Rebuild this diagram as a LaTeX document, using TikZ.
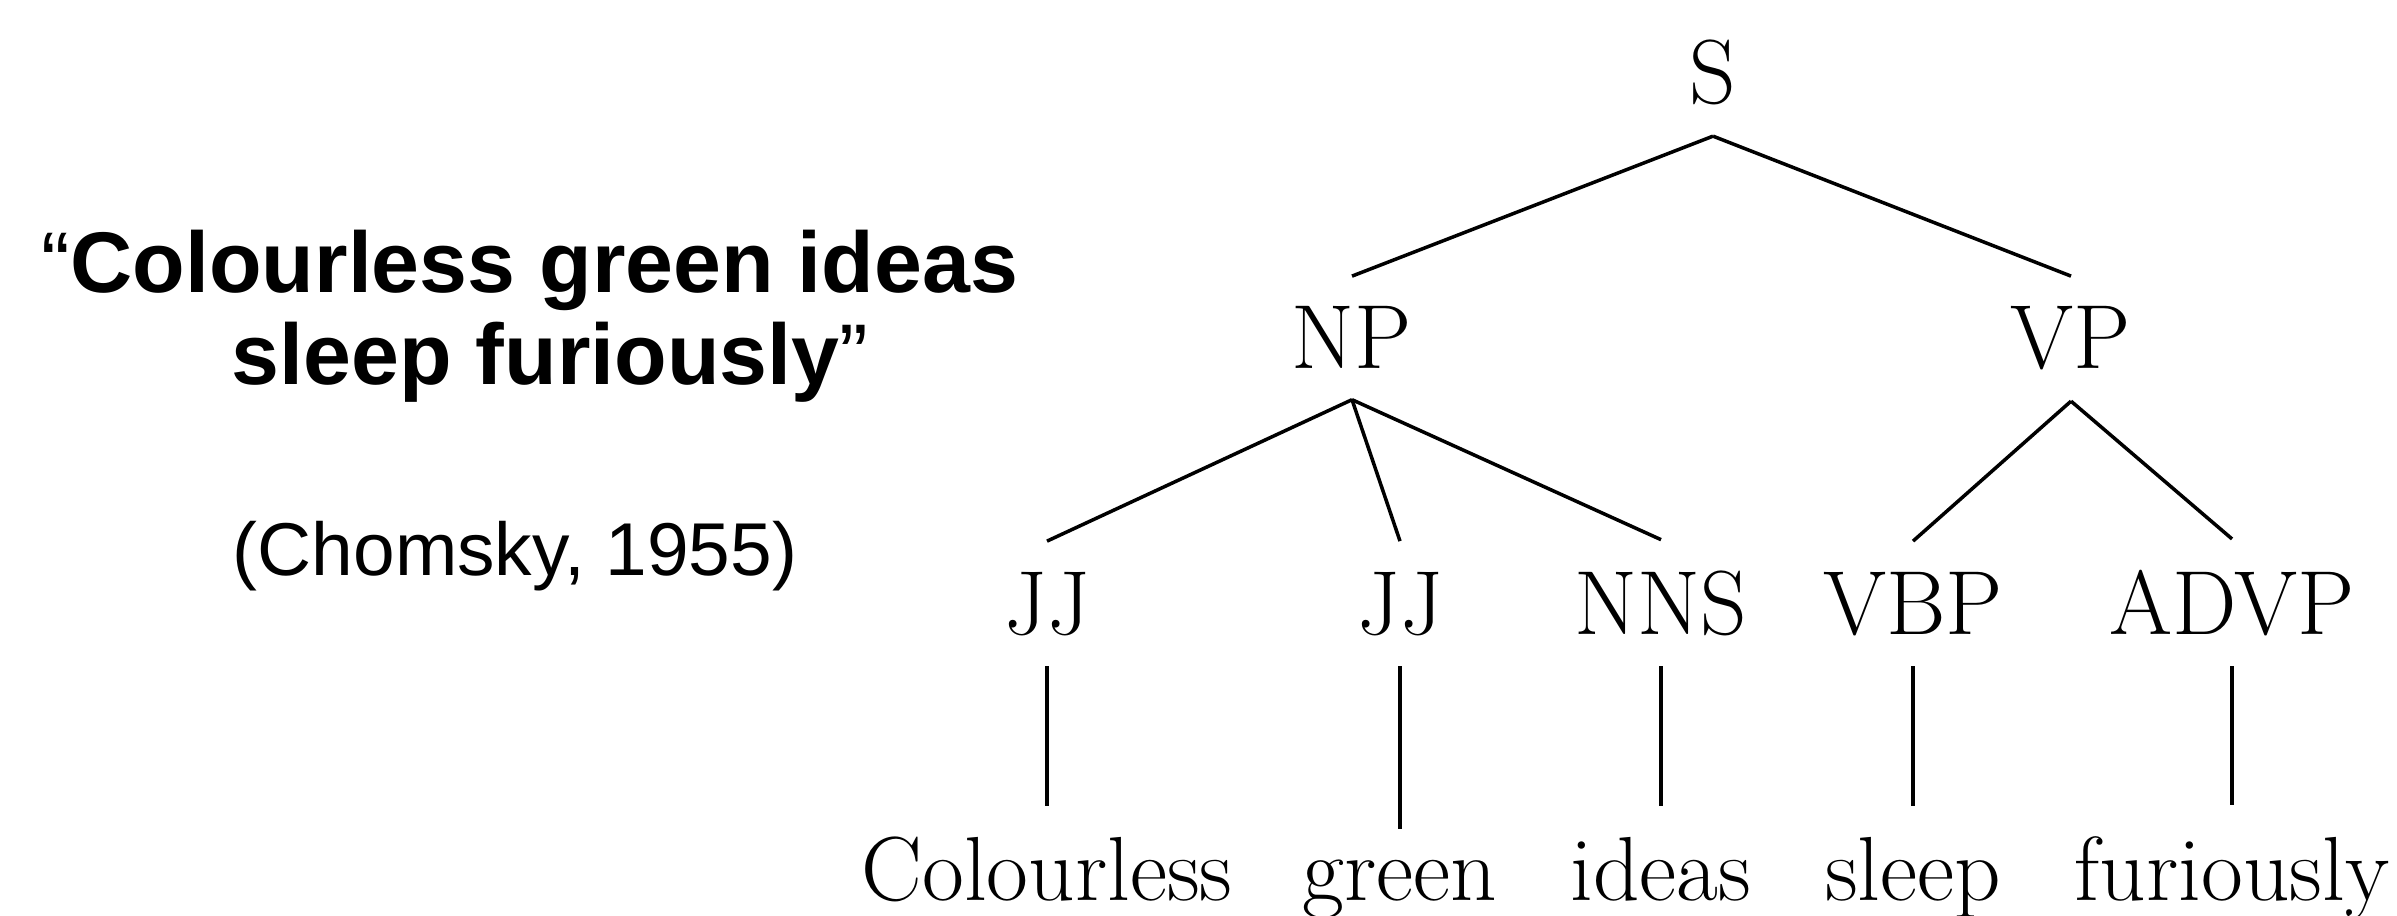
\documentclass[tikz,border=0pt]{standalone}
\usepackage{fontspec}
\newfontfamily\quotefont{Liberation Sans}
\tikzset{
  tag/.style={font=\fontsize{25.9}{31}\selectfont, anchor=base, inner sep=0.30cm},
  quote/.style={font=\quotefont\bfseries\fontsize{24.5}{29}\selectfont, anchor=base},
  branch/.style={line width=1pt}
}
\begin{document}
\begin{tikzpicture}
  \useasboundingbox (0,0) rectangle (23.97,9.15);

  \node [quote] (q1) at (5.30,6.22) {{\mdseries “}Colourless green ideas};
  \node [quote] (q2) at (5.50,5.30) {sleep furiously{\mdseries ”}};
  \node [font=\quotefont\fontsize{21.3}{26}\selectfont, anchor=base] (src) at (5.15,3.39) {(Chomsky, 1955)};

  \node [tag] (S) at (17.13,8.11) {S};
  \node [tag] (NP) at (13.52,5.46) {NP};
  \node [tag] (VP) at (20.71,5.46) {VP};

  \node [tag] (JJa) at (10.47,2.81) {JJ};
  \node [tag] (JJb) at (14.00,2.81) {JJ};
  \node [tag] (NNS) at (16.61,2.81) {NNS};
  \node [tag] (VBP) at (19.13,2.81) {VBP};
  \node [tag] (ADVP) at (22.32,2.81) {ADVP};

  \node [tag] (colourless) at (10.47,0.15) {Colourless};
  \node [tag] (green) at (14.00,0.15) {green};
  \node [tag] (ideas) at (16.61,0.15) {ideas};
  \node [tag] (sleep) at (19.13,0.15) {sleep};
  \node [tag] (furiously) at (22.32,0.15) {furiously};

  \draw [branch] (S.south) -- (NP.north);
  \draw [branch] (S.south) -- (VP.north);

  \draw [branch] (NP.south) -- (JJa.north);
  \draw [branch] (NP.south) -- (JJb.north);
  \draw [branch] (NP.south) -- (NNS.north);
  \draw [branch] (VP.south) -- (VBP.north);
  \draw [branch] (VP.south) -- (ADVP.north);

  \draw [branch] (JJa.south) -- (colourless.north);
  \draw [branch] (JJb.south) -- (green.north);
  \draw [branch] (NNS.south) -- (ideas.north);
  \draw [branch] (VBP.south) -- (sleep.north);
  \draw [branch] (ADVP.south) -- (furiously.north);
\end{tikzpicture}
\end{document}
